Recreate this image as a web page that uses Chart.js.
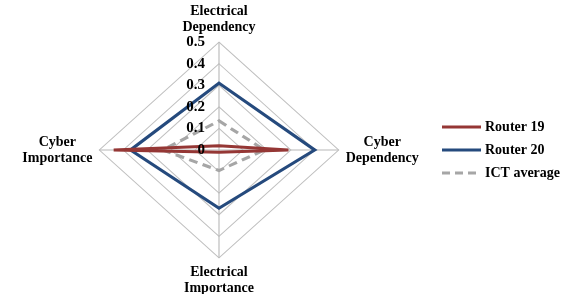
<!DOCTYPE html>
<html>
<head>
<meta charset="utf-8">
<script src="https://cdn.jsdelivr.net/npm/chart.js@4"></script>
<style>
  html, body { margin: 0; padding: 0; background: #fff; }
  #wrap { width: 577px; height: 294px; }
</style>
</head>
<body>
<div id="wrap"><canvas id="radar" width="577" height="294"></canvas></div>
<script>
// ── Data ─────────────────────────────────────────────────────
const AXES = [
    ['Electrical', 'Dependency'],
    ['Cyber', 'Dependency'],
    ['Electrical', 'Importance'],
    ['Cyber', 'Importance'],
];
const SERIES = ['Router 19', 'Router 20', 'ICT average'];
const ROUTER_19 = [0.02, 0.29, 0.01, 0.44];
const ROUTER_20 = [0.31, 0.40, 0.27, 0.37];
const ICT_AVG = [0.135, 0.19, 0.095, 0.235];
const TICKS = [0, 0.1, 0.2, 0.3, 0.4, 0.5];

const FONT = 'bold 14px "Liberation Serif", "Times New Roman", serif';
const TICK_FONT = 'bold 15px "Liberation Serif", "Times New Roman", serif';
const STRETCH_X = 1.11;   // the original diamond is a bit wider than tall

// ── Stretch grid + lines horizontally ────────────────────────
const stretchPlugin = {
    id: 'stretch',
    beforeDraw(chart) {
        const r = chart.scales.r;
        const ctx = chart.ctx;
        ctx.save();
        ctx.translate(r.xCenter, 0);
        ctx.scale(STRETCH_X, 1);
        ctx.translate(-r.xCenter, 0);
    },
    afterDatasetsDraw(chart) {
        chart.ctx.restore();
    },
};

// ── Labels, ticks and legend ─────────────────────────────────
const labelPlugin = {
    id: 'labels',
    afterDraw(chart) {
        const r = chart.scales.r;
        const ctx = chart.ctx;
        const gap = 7;
        ctx.save();
        ctx.fillStyle = '#000';
        ctx.textBaseline = 'middle';

        // tick labels, left of the vertical axis
        ctx.font = TICK_FONT;
        ctx.textAlign = 'right';
        TICKS.forEach(v => {
            const y = r.yCenter - r.getDistanceFromCenterForValue(v);
            ctx.fillText(String(v), r.xCenter - 14, y);
        });

        // axis names, centred line by line
        ctx.font = FONT;
        ctx.textAlign = 'center';
        AXES.forEach((lines, i) => {
            const p = r.getPointPosition(i, r.drawingArea);
            const px = r.xCenter + (p.x - r.xCenter) * STRETCH_X;
            const w = Math.max(...lines.map(t => ctx.measureText(t).width));
            let cx = px, cy;
            if (i === 0) cy = p.y - gap - 8 - 16 * (lines.length - 1);
            else if (i === 2) cy = p.y + gap + 8;
            else {
                cx = i === 1 ? px + gap + w / 2 : px - gap - w / 2;
                cy = p.y - 8 * (lines.length - 1);
            }
            lines.forEach((t, j) => ctx.fillText(t, cx, cy + j * 16));
        });

        // legend
        ctx.textAlign = 'left';
        chart.data.datasets.forEach((ds, i) => {
            const y = 127 + i * 23;
            ctx.strokeStyle = ds.borderColor;
            ctx.lineWidth = ds.borderWidth;
            ctx.setLineDash(ds.borderDash || []);
            ctx.beginPath();
            ctx.moveTo(442, y);
            ctx.lineTo(481, y);
            ctx.stroke();
            ctx.fillText(ds.label, 485, y);
        });
        ctx.restore();
    },
};

new Chart(document.getElementById('radar'), {
    type: 'radar',
    data: {
        labels: AXES,
        datasets: [
            { label: SERIES[0], data: ROUTER_19, borderColor: '#953735', borderWidth: 3 },
            { label: SERIES[1], data: ROUTER_20, borderColor: '#254a7d', borderWidth: 3 },
            { label: SERIES[2], data: ICT_AVG, borderColor: '#a6a6a6', borderWidth: 3, borderDash: [8, 5] },
        ].map(d => Object.assign({ fill: false, pointRadius: 0, tension: 0, backgroundColor: 'transparent' }, d)),
    },
    options: {
        responsive: false,
        animation: false,
        layout: { padding: { left: 3, right: 137, top: 6, bottom: 0 } },
        scales: {
            r: {
                min: 0,
                max: 0.5,
                ticks: { stepSize: 0.1, display: false },
                grid: { color: '#c0c0c0', lineWidth: 1 },
                angleLines: { color: '#b8b8b8', lineWidth: 1 },
                pointLabels: {
                    color: 'transparent',
                    padding: 4,
                    font: { family: '"Liberation Serif", serif', size: 14, weight: 'bold', lineHeight: 1.15 },
                },
            },
        },
        plugins: {
            tooltip: { enabled: false },
            legend: { display: false },
        },
    },
    plugins: [stretchPlugin, labelPlugin],
});
</script>
</body>
</html>
